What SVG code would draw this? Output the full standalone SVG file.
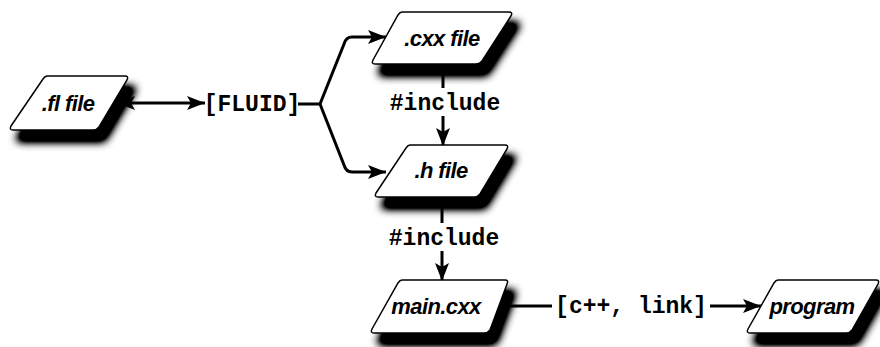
<svg xmlns="http://www.w3.org/2000/svg" width="880" height="347" viewBox="0 0 880 347">
<defs>
<filter id="sh" x="-20%" y="-20%" width="160%" height="180%">
<feGaussianBlur in="SourceAlpha" stdDeviation="4.5"/>
<feOffset dx="7" dy="11" result="b"/>
<feComponentTransfer in="b" result="c"><feFuncA type="linear" slope="1.8"/></feComponentTransfer>
<feMerge><feMergeNode in="c"/><feMergeNode in="SourceGraphic"/></feMerge>
</filter>
<marker id="ah" markerUnits="userSpaceOnUse" markerWidth="20" markerHeight="14" refX="18" refY="7" orient="auto-start-reverse">
<path d="M0,0 L18,7 L0,14 L4,7 z" fill="#000"/>
</marker>
</defs>
<style>
.node path{fill:#fff;stroke:#000;stroke-width:1.5;filter:url(#sh)}
.node text{font-family:"Liberation Sans",Arial,sans-serif;font-style:italic;font-weight:bold;font-size:22px;letter-spacing:-0.6px;text-anchor:middle;fill:#000}
.lbl{font-family:"Liberation Mono","Courier New",monospace;font-weight:bold;font-size:23px;text-anchor:middle;fill:#000}
.conn path{fill:none;stroke:#000;stroke-width:3}
</style>
<g class="conn" id="connectors">
<path d="M117,103 H205" marker-start="url(#ah)" marker-end="url(#ah)"/>
<path d="M298,104 H320 L344,44 Q346,37 352,37 H386" marker-end="url(#ah)"/>
<path d="M320,104 L344,165 Q346,172 352,172 H386" marker-end="url(#ah)"/>
<path d="M443,64 V88"/>
<path d="M443,116 V146" marker-end="url(#ah)"/>
<path d="M442,197 V223"/>
<path d="M442,251 V281" marker-end="url(#ah)"/>
<path d="M488,306 H552"/>
<path d="M710,306 H761" marker-end="url(#ah)"/>
<text class="lbl" x="252" y="111">[FLUID]</text>
<text class="lbl" x="445" y="110">#include</text>
<text class="lbl" x="444" y="245">#include</text>
<text class="lbl" x="631" y="313">[c++, link]</text>
</g>
<g class="node" id="fl">
<path d="M47,76 H125 Q129,76 127,80 L99,127 Q97,130 93,130 H13 Q9,130 11,126 L43,79 Q45,76 47,76 z"/>
<text x="68" y="111">.fl file</text>
</g>
<g class="node" id="cxx">
<path d="M402,12 H509 Q513,12 511,16 L482,61 Q480,64 476,64 H375 Q371,64 373,60 L398,15 Q400,12 402,12 z"/>
<text x="442" y="46">.cxx file</text>
</g>
<g class="node" id="h">
<path d="M410,145 H505 Q509,145 507,149 L480,194 Q478,197 474,197 H378 Q374,197 376,193 L406,148 Q408,145 410,145 z"/>
<text x="441" y="178">.h file</text>
</g>
<g class="node" id="main">
<path d="M402,280 H505 Q509,280 507,284 L490,330 Q488,333 484,333 H374 Q370,333 372,329 L398,283 Q400,280 402,280 z"/>
<text x="436" y="314">main.cxx</text>
</g>
<g class="node" id="program">
<path d="M778,280 H876 Q880,280 878,284 L852,330 Q850,333 846,333 H750 Q746,333 748,329 L774,283 Q776,280 778,280 z"/>
<text x="812" y="314">program</text>
</g>
</svg>
